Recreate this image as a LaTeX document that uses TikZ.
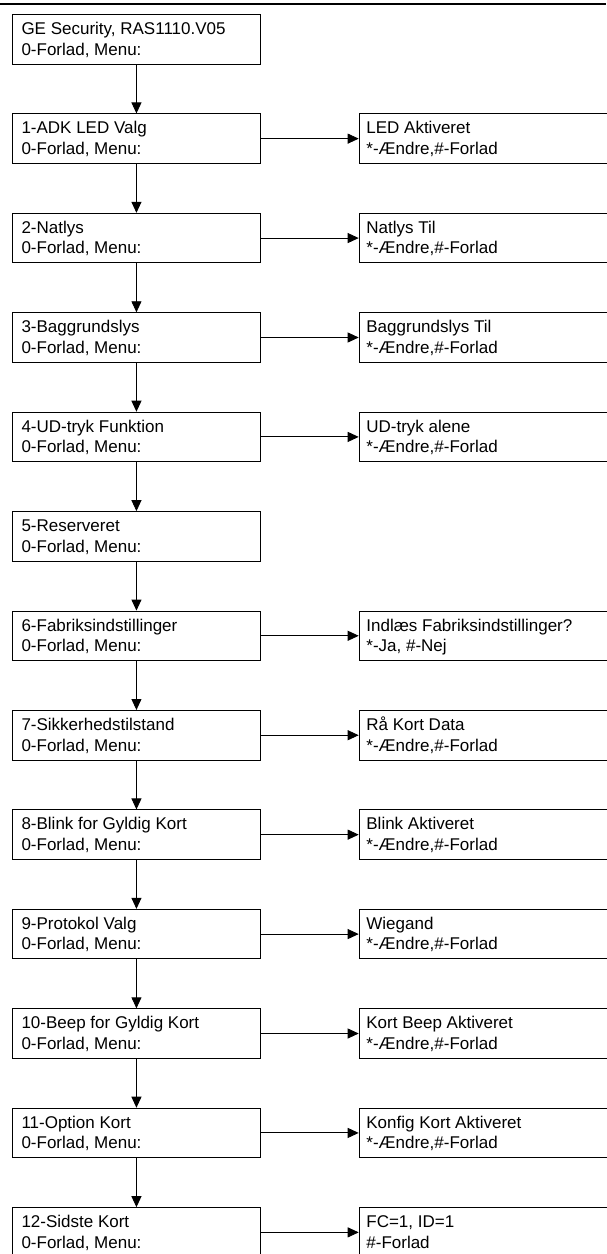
\documentclass[tikz,border=0pt]{standalone}
\usepackage{fontspec}
\setmainfont{Liberation Sans}
\usetikzlibrary{arrows.meta,calc}
\begin{document}
\begin{tikzpicture}[x=1pt,y=-1pt,
  box/.style={draw=black,line width=0.9pt,rectangle,inner sep=0pt,anchor=north west,minimum height=49.5pt},
  lbox/.style={box,minimum width=248pt},
  rbox/.style={box,minimum width=260pt},
  txt/.style={anchor=base west,inner sep=0pt,font=\fontsize{17}{20.5}\selectfont},
  arr/.style={line width=0.9pt,-{Triangle[width=10pt,length=11pt]}}]
\useasboundingbox (0,0) rectangle (606,1254);
\draw[line width=2.5pt] (0,4) -- (606,4);
% left column
\foreach \i/\a/\b in {
 0/{GE Security, RAS1110.V05}/{0-Forlad, Menu:},
 1/{1-ADK LED Valg}/{0-Forlad, Menu:},
 2/{2-Natlys}/{0-Forlad, Menu:},
 3/{3-Baggrundslys}/{0-Forlad, Menu:},
 4/{4-UD-tryk Funktion}/{0-Forlad, Menu:},
 5/{5-Reserveret}/{0-Forlad, Menu:},
 6/{6-Fabriksindstillinger}/{0-Forlad, Menu:},
 7/{7-Sikkerhedstilstand}/{0-Forlad, Menu:},
 8/{8-Blink for Gyldig Kort}/{0-Forlad, Menu:},
 9/{9-Protokol Valg}/{0-Forlad, Menu:},
 10/{10-Beep for Gyldig Kort}/{0-Forlad, Menu:},
 11/{11-Option Kort}/{0-Forlad, Menu:},
 12/{12-Sidste Kort}/{0-Forlad, Menu:}}{
  \node[lbox] (L\i) at (12,{14+99.43*\i}) {};
  \node[txt] (La\i) at ($(L\i.north west)+(9.3,20.5)$) {\a};
  \node[txt] (Lb\i) at ($(L\i.north west)+(9.3,41)$) {\b};
}
% right column
\foreach \i/\a/\b in {
 1/{LED Aktiveret}/{*-Ændre,\#-Forlad},
 2/{Natlys Til}/{*-Ændre,\#-Forlad},
 3/{Baggrundslys Til}/{*-Ændre,\#-Forlad},
 4/{UD-tryk alene}/{*-Ændre,\#-Forlad},
 6/{Indlæs Fabriksindstillinger?}/{*-Ja, \#-Nej},
 7/{Rå Kort Data}/{*-Ændre,\#-Forlad},
 8/{Blink Aktiveret}/{*-Ændre,\#-Forlad},
 9/{Wiegand}/{*-Ændre,\#-Forlad},
 10/{Kort Beep Aktiveret}/{*-Ændre,\#-Forlad},
 11/{Konfig Kort Aktiveret}/{*-Ændre,\#-Forlad},
 12/{FC=1, ID=1}/{\#-Forlad}}{
  \node[rbox] (R\i) at (358.7,{14+99.43*\i}) {};
  \node[txt] (Ra\i) at ($(R\i.north west)+(7.5,20.5)$) {\a};
  \node[txt] (Rb\i) at ($(R\i.north west)+(7.5,41)$) {\b};
  \draw[arr] (L\i.east) -- (R\i.west);
}
% vertical arrows
\foreach \i [evaluate=\i as \j using int(\i+1)] in {0,...,11}{
  \draw[arr] (L\i.south) -- (L\j.north);
}
\end{tikzpicture}
\end{document}
